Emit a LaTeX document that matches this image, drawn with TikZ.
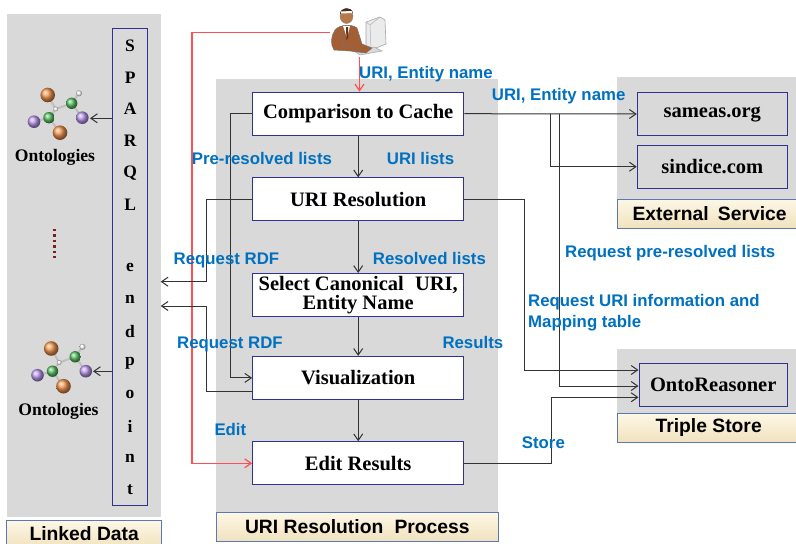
\documentclass[tikz,border=0pt]{standalone}
\usepackage{fontspec}
\setmainfont{Liberation Serif}
\setsansfont{Liberation Sans}
\usetikzlibrary{arrows.meta}

\definecolor{panelgray}{HTML}{D9D9D9}
\definecolor{boxnavy}{HTML}{2F3290}
\definecolor{labelblue}{HTML}{0070C0}
\definecolor{flowred}{HTML}{FF5050}
\definecolor{tagedge}{HTML}{5A78B4}
\definecolor{tagtop}{HTML}{FDF7E6}
\definecolor{tagbottom}{HTML}{F0E2BE}
\definecolor{molorange}{HTML}{F0832E}
\definecolor{molgreen}{HTML}{3DB84A}
\definecolor{molpurple}{HTML}{B088EE}
\definecolor{dotred}{HTML}{7A1E1E}
\definecolor{skin}{HTML}{B8784A}
\definecolor{suit}{HTML}{A35E34}
\definecolor{hair}{HTML}{4A2A1A}

\tikzset{
  molecule/.pic={
    \draw[black!25, line width=2pt]
      (-7.3,-15) -- (0.7,-1) -- (16.7,-6.7) -- (24,-16.7)
      (16.7,-6.7) -- (27.3,7.7)
      (0.7,-1) -- (-6,7.7) -- (-21,11.7)
      (-6,7.7) -- (5,22.7);
    \shade[ball color=white] (24,-16.7) circle (3);
    \shade[ball color=white] (0.7,-1) circle (2.4);
    \shade[ball color=molorange!85!white] (-7.3,-15) circle (7.3);
    \shade[ball color=molgreen!85!white] (16.7,-6.7) circle (5.7);
    \shade[ball color=molgreen!85!white] (-6,7.7) circle (5.7);
    \shade[ball color=molpurple!85!white] (-21,11.7) circle (6.3);
    \shade[ball color=molpurple!85!white] (27.3,7.7) circle (6.3);
    \shade[ball color=molorange!85!white] (5,22.7) circle (7.3);
  }
}

\begin{document}
\begin{tikzpicture}[x=1pt,y=-1pt,
  panel/.style={fill=panelgray, draw=none, inner sep=0pt},
  proc/.style={draw=boxnavy, fill=white, line width=1.1pt, minimum width=211pt,
    minimum height=43pt, inner sep=0pt, align=center,
    font=\bfseries\fontsize{20.5}{19}\selectfont},
  svc/.style={proc, fill=panelgray, minimum width=150pt},
  tag/.style={draw=tagedge, line width=1pt, top color=tagtop, bottom color=tagbottom,
    inner sep=0pt, font=\sffamily\bfseries\fontsize{19.3}{22}\selectfont},
  lbl/.style={font=\sffamily\bfseries\fontsize{16.8}{19}\selectfont, text=labelblue,
    inner sep=0pt, anchor=base west},
  letter/.style={font=\bfseries\fontsize{17.5}{18}\selectfont, inner sep=0pt},
  ontotext/.style={font=\bfseries\fontsize{17.6}{18}\selectfont, inner sep=0pt},
  flow/.style={draw=black!80, line width=1pt, -{Straight Barb[length=6.5pt,width=9pt]}},
  userflow/.style={draw=flowred, line width=1.2pt, -{Straight Barb[length=6.5pt,width=9pt]}}]

\useasboundingbox (0,0) rectangle (796,544);

% background panels
\node[panel, minimum width=153.8pt, minimum height=502.7pt] (linked) at (83.6,265.35) {};
\node[panel, minimum width=282pt, minimum height=433.7pt] (process) at (357,295.85) {};
\node[panel, minimum width=182.7pt, minimum height=122pt] (extpanel) at (708.65,138.3) {};
\node[panel, minimum width=182.7pt, minimum height=64pt] (triplepanel) at (708.65,381.3) {};

% panel captions
\node[tag, minimum width=155pt, minimum height=28pt] (linkedtag) at (84.2,534) {Linked Data};
\node[tag, minimum width=281.3pt, minimum height=28.3pt] (processtag) at (357.35,526.85) {URI Resolution\hspace{0.3em} Process};
\node[tag, minimum width=182.7pt, minimum height=29pt, text depth=0pt] (exttag) at (708.65,213.8) {\hspace{2pt}External\hspace{0.2em} Service};
\node[tag, minimum width=182.7pt, minimum height=29.4pt] (tripletag) at (708.65,428) {Triple Store};

% SPARQL endpoint column
\node[draw=boxnavy, fill=panelgray, line width=1.1pt, minimum width=35.2pt,
  minimum height=477.4pt, inner sep=0pt] (sparql) at (130.1,267) {};
\foreach \ch/\yy [count=\i] in {S/45.7, P/77.4, A/109.2, R/140.9, Q/172.7, L/204.4,
    e/267.9, n/299.6, d/331.4, p/363.1, o/394.8, i/426.6, n/458.3, t/490}
  \node[letter] (ch\i) at (130.1,\yy) {\ch};

% ontologies
\pic at (55,110) {molecule};
\pic at (58.5,363.5) {molecule};
\node[ontotext] (ont1) at (55,157.8) {Ontologies};
\node[ontotext] (ont2) at (58.5,411.3) {Ontologies};
\coordinate (mol1) at (90,118.3);
\coordinate (mol2) at (93,371.3);
\draw[flow] (sparql.west |- mol1) -- (mol1);
\draw[flow] (sparql.west |- mol2) -- (mol2);
\coordinate (dotsA) at (54.5,229);
\coordinate (dotsB) at (54.5,261);
\draw[dotred, line width=2.4pt, dash pattern=on 2.4pt off 3pt] (dotsA) -- (dotsB);

% user at a workstation
\begin{scope}
  % monitor
  \fill[white!92!black, draw=black!35, line width=0.6pt]
    (366,22) -- (380,17) -- (385,20) -- (386,44) -- (371,50) -- (366,47) -- cycle;
  \draw[black!30, line width=0.5pt] (371,50) -- (370,25) -- (380,17) (370,25) -- (366,22);
  % keyboard
  \fill[white!85!black, draw=black!35, line width=0.5pt]
    (352,50) -- (374,47) -- (382,51) -- (360,55) -- cycle;
  % body
  \fill[suit, draw=black!55, line width=0.5pt]
    (335,30) .. controls (340,24) and (352,24) .. (357,28)
    -- (362,44) -- (372,48) -- (366,53) -- (350,51) -- (334,50)
    .. controls (330,44) and (331,36) .. (335,30) -- cycle;
  \fill[white] (343,26) -- (350,26) -- (347,38) -- cycle;
  \fill[hair!80!suit] (346,27) -- (348,27) -- (348,38) -- (346.5,40) -- cycle;
  \draw[black!55, line width=0.5pt] (340,34) -- (344,46) -- (360,49);
  % head
  \fill[skin, draw=black!50, line width=0.4pt] (346.5,16) ellipse (6.5 and 7.5);
  \fill[hair] (340,14) .. controls (340,7) and (352,6) .. (353,13)
    .. controls (349,10) and (344,10) .. (340,14) -- cycle;
  \fill[white] (341,11.5) -- (352,11) -- (352,13) -- (341,13.5) -- cycle;
\end{scope}
\coordinate (userL) at (330,32.3);
\coordinate (userB) at (359.5,57);

% process steps
\node[proc] (cmp) at (358.2,113.7) {Comparison to Cache};
\node[proc] (uri) at (358.2,199.4) {URI Resolution};
\node[proc] (sel) at (358.2,295) {Select Canonical\hspace{0.3em} URI,\\Entity Name};
\node[proc] (vis) at (358.2,377.9) {Visualization};
\node[proc] (edit) at (358.2,463.3) {Edit Results};

% services
\node[svc] (sameas) at (712.3,114) {sameas.org};
\node[svc] (sindice) at (712.3,166.7) {sindice.com};
\node[svc, minimum width=148.3pt] (onto) at (713.2,384.7) {OntoReasoner};

% user input
\draw[userflow] (userB) -- (userB |- cmp.north);
\draw[userflow] (userL) -- ++(-138,0) |- (edit.west);

% main chain
\draw[flow] (cmp.south) -- (uri.north);
\draw[flow] (uri.south) -- (sel.north);
\draw[flow] (sel.south) -- (vis.north);
\draw[flow] (vis.south) -- (edit.north);

% pre-resolved lists and RDF requests
\draw[flow] (cmp.west) -- ++(-21.7,0) |- (vis.west);
\coordinate (rdfA) at (206.7,281.7);
\coordinate (rdfB) at (206.7,306);
\draw[flow] (uri.west) -| (rdfA) -- (linked.east |- rdfA);
\draw[flow] ([yshift=-13.8pt]vis.west) -| (rdfB) -- (linked.east |- rdfB);

% external services and triple store
\coordinate (brA) at (550.7,114);
\coordinate (brB) at (559.3,114);
\draw[flow] (cmp.east) -- (sameas.west);
\draw[flow] (brA) |- (sindice.west);
\draw[flow] (brB) |- ([yshift=-1.3pt]onto.west);
\draw[flow] (uri.east) -- ++(60.6,0) |- ([yshift=14.7pt]onto.west);
\draw[flow] (edit.east) -- ++(87.3,0) |- ([yshift=-12.6pt]onto.west);

% connector labels
\node[lbl] (lUE1) at (359,78.7) {URI, Entity name};
\node[lbl] (lUE2) at (491.7,100.3) {URI, Entity name};
\node[lbl] (lPre) at (191.7,164.3) {Pre-resolved lists};
\node[lbl] (lUL) at (386.7,164.3) {URI lists};
\node[lbl] (lRR1) at (173.5,264.3) {Request RDF};
\node[lbl] (lRes) at (372.7,264.3) {Resolved lists};
\node[lbl] (lRR2) at (177,348.7) {Request RDF};
\node[lbl] (lResu) at (442.3,348.7) {Results};
\node[lbl] (lEdit) at (214.3,435) {Edit};
\node[lbl] (lRPL) at (565,257.7) {Request pre-resolved lists};
\node[lbl] (lRUI) at (528,306.7) {Request URI information and};
\node[lbl] (lMap) at (528,327.7) {Mapping table};
\node[lbl] (lStore) at (521.7,448.7) {Store};

\end{tikzpicture}
\end{document}
